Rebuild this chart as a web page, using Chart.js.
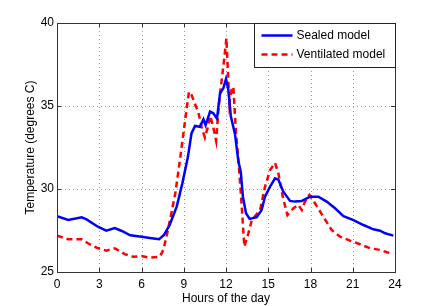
<!DOCTYPE html>
<html>
<head>
<meta charset="utf-8">
<script src="https://cdn.jsdelivr.net/npm/chart.js@4"></script>
<style>
  html, body { margin: 0; padding: 0; background: #fff; }
  #wrap { width: 437px; height: 306px; }
</style>
</head>
<body>
<div id="wrap"><canvas id="temp-chart" width="437" height="306"></canvas></div>
<script>
; (function() {

	// hours of the day, sealed model
	const sealedHours = [0, 0.8, 1.75, 2.1, 2.9, 3.5, 4.1, 4.6, 5.2, 6.0, 6.6, 7.25, 7.6, 8.0, 8.5, 8.9, 9.3, 9.55, 9.8, 10.15, 10.4, 10.55, 10.87, 11.1, 11.36, 11.58, 11.81, 12.0, 12.17, 12.34, 12.64, 12.88, 13.05, 13.2, 13.42, 13.68, 14.18, 14.53, 14.77, 15.13, 15.48, 15.72, 16.07, 16.55, 16.9, 17.38, 17.97, 18.56, 19.15, 19.74, 20.34, 21.05, 21.76, 22.47, 22.94, 23.3, 23.88]
	const sealedTemp = [28.37, 28.13, 28.29, 28.17, 27.73, 27.49, 27.65, 27.47, 27.21, 27.13, 27.05, 26.97, 27.23, 27.83, 28.94, 30.34, 31.95, 33.35, 33.8, 33.75, 34.2, 33.85, 34.66, 34.56, 34.24, 35.77, 36.07, 36.63, 35.96, 34.4, 33.3, 31.65, 31.04, 29.54, 28.54, 28.2, 28.3, 28.73, 29.54, 30.14, 30.64, 30.56, 29.84, 29.28, 29.24, 29.28, 29.54, 29.54, 29.24, 28.84, 28.37, 28.13, 27.83, 27.57, 27.49, 27.33, 27.19]

	// ventilated model
	const ventHours = [0, 0.8, 1.75, 2.2, 2.8, 3.5, 4.1, 4.8, 5.4, 6.0, 6.6, 7.3, 7.55, 7.8, 8.07, 8.4, 8.73, 9.1, 9.37, 9.56, 9.8, 10.04, 10.27, 10.5, 10.7, 10.88, 11.1, 11.3, 11.46, 11.58, 11.81, 12.03, 12.24, 12.4, 12.52, 12.71, 12.88, 13.12, 13.3, 13.59, 13.83, 14.42, 14.77, 15.13, 15.48, 15.72, 16.03, 16.36, 16.79, 17.14, 17.38, 17.61, 17.92, 18.32, 18.91, 19.5, 20.1, 20.81, 21.52, 22.23, 22.94, 23.65, 23.88]
	const ventTemp = [27.19, 26.97, 26.97, 26.73, 26.47, 26.29, 26.43, 26.08, 25.92, 25.96, 25.86, 25.92, 26.33, 27.23, 28.33, 29.74, 31.75, 34.16, 35.86, 35.66, 35.12, 34.6, 33.75, 33.1, 33.7, 34.4, 33.7, 32.9, 34.76, 35.77, 37.37, 39.08, 35.16, 36.0, 36.16, 33.36, 31.75, 28.94, 26.53, 27.33, 28.13, 28.73, 30.14, 31.14, 31.58, 30.94, 29.54, 28.43, 28.84, 29.04, 28.73, 29.24, 29.64, 29.14, 28.33, 27.53, 27.13, 26.89, 26.67, 26.43, 26.33, 26.13, 26.1]

	const seriesLabels = ['Sealed model', 'Ventilated model']
	const xTicks = [0, 3, 6, 9, 12, 15, 18, 21, 24]
	const yTicks = [25, 30, 35, 40]

	const FONT = 'Helvetica, "Liberation Sans", Arial, sans-serif'

	function pts(xs, ys) {
		return xs.map((x, i) => ({ x: x, y: ys[i] }))
	}

	// dotted grid under the lines
	const gridPlugin = {
		id: 'dotgrid',
		beforeDatasetsDraw(chart) {
			const ctx = chart.ctx
			const a = chart.chartArea
			const xs = chart.scales.x
			const ys = chart.scales.y
			ctx.save()
			ctx.strokeStyle = '#999'
			ctx.lineWidth = 1
			ctx.setLineDash([1, 3])
			ctx.beginPath()
			xTicks.slice(1, -1).forEach(v => {
				const px = Math.round(xs.getPixelForValue(v)) + 0.5
				ctx.moveTo(px, a.top); ctx.lineTo(px, a.bottom)
			})
			yTicks.slice(1, -1).forEach(v => {
				const py = Math.round(ys.getPixelForValue(v)) + 0.5
				ctx.moveTo(a.left, py); ctx.lineTo(a.right, py)
			})
			ctx.stroke()
			ctx.restore()
		}
	}

	// frame, inward ticks and boxed legend, matlab style
	const framePlugin = {
		id: 'frame',
		afterDraw(chart) {
			const ctx = chart.ctx
			const a = chart.chartArea
			const xs = chart.scales.x
			const ys = chart.scales.y
			ctx.save()
			ctx.strokeStyle = '#333'
			ctx.lineWidth = 1
			ctx.setLineDash([])
			ctx.beginPath()
			xTicks.forEach(v => {
				const px = Math.round(xs.getPixelForValue(v)) + 0.5
				ctx.moveTo(px, a.bottom); ctx.lineTo(px, a.bottom - 4)
				ctx.moveTo(px, a.top); ctx.lineTo(px, a.top + 4)
			})
			yTicks.forEach(v => {
				const py = Math.round(ys.getPixelForValue(v)) + 0.5
				ctx.moveTo(a.left, py); ctx.lineTo(a.left + 4, py)
				ctx.moveTo(a.right, py); ctx.lineTo(a.right - 4, py)
			})
			ctx.stroke()
			ctx.strokeRect(Math.round(a.left) + 0.5, Math.round(a.top) + 0.5,
				Math.round(a.right - a.left), Math.round(a.bottom - a.top))

			// legend
			const bx = 254.5, by = a.top + 0.5, bw = Math.round(a.right) - 254, bh = 44
			ctx.fillStyle = '#fff'
			ctx.fillRect(bx, by, bw, bh)
			ctx.strokeStyle = '#222'
			ctx.strokeRect(bx, by, bw, bh)
			ctx.font = '12px ' + FONT
			ctx.textBaseline = 'middle'
			chart.data.datasets.forEach((ds, i) => {
				const ly = by + 12 + i * 19
				ctx.strokeStyle = ds.borderColor
				ctx.lineWidth = 2.5
				ctx.setLineDash(ds.borderDash || [])
				ctx.beginPath()
				ctx.moveTo(bx + 7, ly); ctx.lineTo(bx + 38, ly)
				ctx.stroke()
				ctx.setLineDash([])
				ctx.fillStyle = '#000'
				ctx.fillText(ds.label, bx + 42, ly)
			})
			ctx.restore()
		}
	}

	const config = {
		type: 'line',
		data: {
			datasets: [
				{
					label: seriesLabels[0],
					data: pts(sealedHours, sealedTemp),
					borderColor: '#0000ff',
					borderWidth: 2.5,
					pointRadius: 0,
					tension: 0,
				},
				{
					label: seriesLabels[1],
					data: pts(ventHours, ventTemp),
					borderColor: '#ff0000',
					borderWidth: 2.5,
					borderDash: [6, 4],
					pointRadius: 0,
					tension: 0,
				},
			],
		},
		options: {
			responsive: false,
			animation: false,
			layout: { padding: { left: 23, right: 42, top: 23, bottom: 0 } },
			plugins: {
				legend: { display: false },
				tooltip: { enabled: false },
			},
			scales: {
				x: {
					type: 'linear',
					min: 0,
					max: 24,
					afterBuildTicks: s => { s.ticks = xTicks.map(v => ({ value: v })) },
					afterFit: s => { s.height = 34 },
					ticks: { color: '#000', font: { size: 12, family: FONT }, padding: 5, maxRotation: 0 },
					grid: { display: false, drawTicks: false },
					border: { display: false },
					title: { display: true, text: 'Hours of the day', color: '#000', font: { size: 12, family: FONT }, padding: { top: 0, bottom: 0 } },
				},
				y: {
					min: 25,
					max: 40,
					afterBuildTicks: s => { s.ticks = yTicks.map(v => ({ value: v })) },
					afterFit: s => { s.width = 34 },
					ticks: { color: '#000', font: { size: 12, family: FONT }, padding: 3 },
					grid: { display: false, drawTicks: false },
					border: { display: false },
					title: { display: true, text: 'Temperature (degrees C)', color: '#000', font: { size: 12, family: FONT }, padding: { top: 0, bottom: 0 } },
				},
			},
		},
		plugins: [gridPlugin, framePlugin],
	}

	const ctx = document.getElementById('temp-chart')
	let chart = new Chart(ctx, config)
})()
</script>
</body>
</html>
